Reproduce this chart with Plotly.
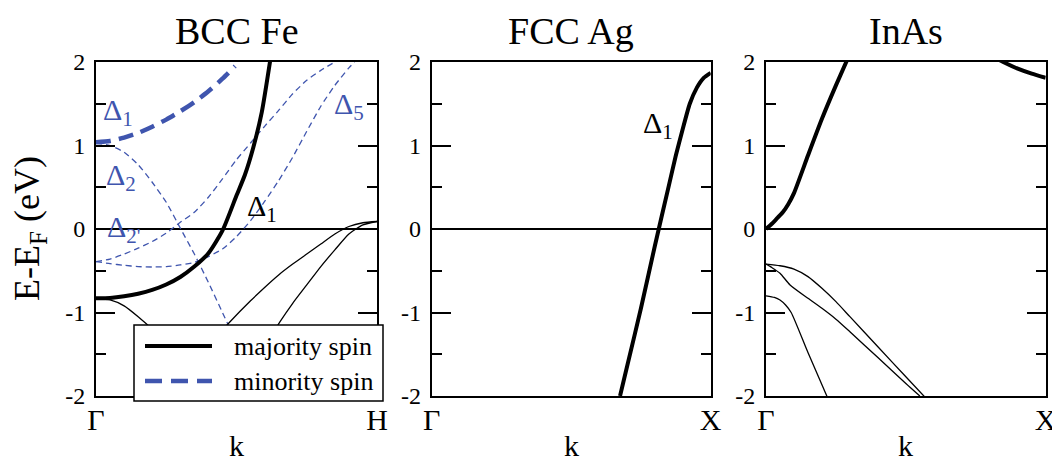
import plotly.graph_objects as go

# ---------------- data ----------------
# BCC Fe, Gamma -> H (k normalised 0..1), energies in eV
fe_maj_d1_k = [0, 0.05, 0.1, 0.15, 0.2, 0.25, 0.3, 0.35, 0.4, 0.45, 0.5, 0.53, 0.56, 0.59, 0.62]
fe_maj_d1_e = [-0.83, -0.825, -0.805, -0.775, -0.73, -0.665, -0.575, -0.45, -0.29, -0.02, 0.4, 0.65, 0.98, 1.4, 2.02]

fe_maj_g_k = [0, 0.05, 0.1, 0.15, 0.2, 0.25]
fe_maj_g_e = [-0.83, -0.85, -0.92, -1.05, -1.2, -1.38]

fe_maj_a_k = [0.42, 0.477, 0.55, 0.6, 0.65, 0.7, 0.75, 0.8, 0.85, 0.9, 0.95, 1.0]
fe_maj_a_e = [-1.32, -1.11, -0.86, -0.70, -0.55, -0.42, -0.30, -0.18, -0.06, 0.03, 0.075, 0.09]

fe_maj_b_k = [0.62, 0.655, 0.7, 0.75, 0.8, 0.85, 0.9, 0.95, 1.0]
fe_maj_b_e = [-1.3, -1.11, -0.89, -0.67, -0.45, -0.25, -0.06, 0.05, 0.09]

fe_min_d1_k = [0, 0.05, 0.1, 0.15, 0.2, 0.25, 0.3, 0.35, 0.4, 0.45, 0.495]
fe_min_d1_e = [1.04, 1.055, 1.095, 1.15, 1.225, 1.31, 1.41, 1.52, 1.65, 1.80, 1.95]

fe_min_d2_k = [0, 0.05, 0.1, 0.15, 0.2, 0.25, 0.3, 0.35, 0.4, 0.45, 0.5]
fe_min_d2_e = [1.03, 1.0, 0.92, 0.77, 0.56, 0.32, 0.01, -0.3, -0.64, -1.0, -1.36]

fe_min_d2p_k = [0, 0.05, 0.1, 0.15, 0.2, 0.25, 0.3, 0.35, 0.4, 0.45, 0.5, 0.55, 0.6, 0.65, 0.7, 0.75, 0.8, 0.85]
fe_min_d2p_e = [-0.39, -0.36, -0.3, -0.23, -0.15, -0.05, 0.08, 0.2, 0.38, 0.6, 0.83, 1.03, 1.23, 1.42, 1.62, 1.78, 1.9, 2.0]

fe_min_d5_k = [0, 0.05, 0.1, 0.15, 0.2, 0.25, 0.3, 0.35, 0.4, 0.45, 0.5, 0.55, 0.6, 0.65, 0.7, 0.75, 0.8, 0.85, 0.9, 0.92]
fe_min_d5_e = [-0.39, -0.415, -0.435, -0.45, -0.455, -0.45, -0.43, -0.4, -0.33, -0.24, -0.09, 0.1, 0.33, 0.58, 0.86, 1.17, 1.47, 1.72, 1.93, 2.0]

# FCC Ag, Gamma -> X
ag_d1_k = [0.675, 0.7, 0.75, 0.8, 0.85, 0.875, 0.9, 0.925, 0.95, 0.975, 1.0]
ag_d1_e = [-2.0, -1.65, -0.95, -0.2, 0.52, 0.88, 1.2, 1.5, 1.69, 1.81, 1.87]

# InAs, Gamma -> X
inas_cb_k = [0, 0.02, 0.04, 0.06, 0.08, 0.1, 0.15, 0.2, 0.25, 0.3]
inas_cb_e = [0, 0.06, 0.13, 0.2, 0.3, 0.43, 0.88, 1.32, 1.72, 2.1]

inas_cbx_k = [0.82, 0.848, 0.9, 0.95, 1.0]
inas_cbx_e = [2.05, 2.0, 1.92, 1.86, 1.81]

inas_hh_k = [0, 0.05, 0.1, 0.15, 0.2, 0.25, 0.3, 0.4, 0.5, 0.57]
inas_hh_e = [-0.42, -0.44, -0.48, -0.57, -0.71, -0.87, -1.05, -1.41, -1.77, -2.02]

inas_lh_k = [0, 0.02, 0.05, 0.086, 0.15, 0.2, 0.25, 0.3, 0.4, 0.5, 0.55]
inas_lh_e = [-0.42, -0.46, -0.53, -0.67, -0.83, -0.95, -1.08, -1.23, -1.54, -1.85, -2.0]

inas_so_k = [0, 0.03, 0.05, 0.07, 0.09, 0.15, 0.22]
inas_so_e = [-0.8, -0.82, -0.85, -0.91, -1.0, -1.48, -2.02]

panel_titles = ["BCC Fe", "FCC Ag", "InAs"]
end_labels = ["H", "X", "X"]
y_ticks = [-2, -1, 0, 1, 2]
y_tick_text = ["-2", "-1", "0", "1", "2"]

# ---------------- styling ----------------
OFF = 8                      # page body margin of the html page
W, H = 1060 - OFF, 463 - OFF
BLUE = "#3f55ae"
SERIF = "Liberation Serif"


def px(x):
    return (x - OFF) / W


def py(y):
    return 1 - (y - OFF) / H


fig = go.Figure()


def add(k, e, ax, color, width, dash="solid"):
    fig.add_trace(go.Scatter(x=k, y=e, mode="lines", xaxis=ax[0], yaxis=ax[1],
                             line=dict(color=color, width=width, dash=dash, shape="spline", smoothing=0.6),
                             showlegend=False, hoverinfo="skip"))


A1, A2, A3 = ("x", "y"), ("x2", "y2"), ("x3", "y3")

# Fe minority (dashed blue)
add(fe_min_d2_k, fe_min_d2_e, A1, BLUE, 1.3, "6px,4px")
add(fe_min_d2p_k, fe_min_d2p_e, A1, BLUE, 1.3, "6px,4px")
add(fe_min_d5_k, fe_min_d5_e, A1, BLUE, 1.3, "6px,4px")
add(fe_min_d1_k, fe_min_d1_e, A1, BLUE, 4.5, "15px,8px")
# Fe majority (solid black)
add(fe_maj_g_k, fe_maj_g_e, A1, "black", 1.3)
add(fe_maj_a_k, fe_maj_a_e, A1, "black", 1.3)
add(fe_maj_b_k, fe_maj_b_e, A1, "black", 1.3)
add(fe_maj_d1_k, fe_maj_d1_e, A1, "black", 4)
# Ag
add(ag_d1_k, ag_d1_e, A2, "black", 4)
# InAs
add(inas_cb_k, inas_cb_e, A3, "black", 4)
add(inas_cbx_k, inas_cbx_e, A3, "black", 4)
add(inas_hh_k, inas_hh_e, A3, "black", 1.3)
add(inas_lh_k, inas_lh_e, A3, "black", 1.3)
add(inas_so_k, inas_so_e, A3, "black", 1.3)

x_domains = [(96, 377), (431.7, 710.7), (766, 1045.7)]
y_dom = [py(396), py(62)]

layout = dict(width=W, height=H, autosize=False, margin=dict(l=0, r=0, t=0, b=0, pad=0),
              paper_bgcolor="white", plot_bgcolor="white", showlegend=False)

for i, (x0, x1) in enumerate(x_domains):
    sfx = "" if i == 0 else str(i + 1)
    layout["xaxis" + sfx] = dict(
        domain=[px(x0), px(x1)], range=[0, 1], anchor="y" + sfx, automargin=False,
        showline=True, mirror=True, linecolor="black", linewidth=2,
        ticks="", tickvals=[0, 1], ticktext=["Γ", end_labels[i]],
        ticklabelstandoff=-4,
        tickfont=dict(family=SERIF, size=30, color="black"),
        showgrid=False, zeroline=False, fixedrange=True)
    layout["yaxis" + sfx] = dict(
        domain=y_dom, range=[-2, 2], anchor="x" + sfx, automargin=False,
        showline=True, mirror="ticks", linecolor="black", linewidth=2,
        ticks="inside", ticklen=19, tickwidth=2, tickcolor="black",
        tickvals=y_ticks, ticktext=y_tick_text, ticklabelstandoff=4,
        minor=dict(ticks="inside", ticklen=10, tickwidth=2, tickcolor="black", dtick=0.5, tick0=0),
        tickfont=dict(family=SERIF, size=24, color="black"),
        showgrid=False, zeroline=True, zerolinecolor="black", zerolinewidth=1.5,
        fixedrange=True)

fig.update_layout(**layout)

annotations = []
for i, (x0, x1) in enumerate(x_domains):
    cx = px((x0 + x1) / 2)
    annotations.append(dict(text=panel_titles[i], x=cx, y=py(31), xref="paper", yref="paper",
                            xanchor="center", yanchor="middle", showarrow=False,
                            font=dict(family=SERIF, size=38, color="black")))
    annotations.append(dict(text="k", x=cx, y=py(445), xref="paper", yref="paper",
                            xanchor="center", yanchor="middle", showarrow=False,
                            font=dict(family=SERIF, size=30, color="black")))

annotations.append(dict(text="E-E<sub>F</sub> (eV)", x=px(29), y=py(229), xref="paper", yref="paper",
                        xanchor="center", yanchor="middle", textangle=-90, showarrow=False,
                        font=dict(family=SERIF, size=36, color="black")))

# band labels (data coordinates)
band_labels = [
    ("Δ<sub>1</sub>", 0.08, 1.40, "x", "y", BLUE),
    ("Δ<sub>2</sub>", 0.088, 0.62, "x", "y", BLUE),
    ("Δ<sub>2'</sub>", 0.1, 0.0, "x", "y", BLUE),
    ("Δ<sub>5</sub>", 0.9, 1.47, "x", "y", BLUE),
    ("Δ<sub>1</sub>", 0.59, 0.25, "x", "y", "black"),
    ("Δ<sub>1</sub>", 0.811, 1.25, "x2", "y2", "black"),
]
for t, xx, yy, xr, yr, c in band_labels:
    annotations.append(dict(text=t, x=xx, y=yy, xref=xr, yref=yr, xanchor="center", yanchor="middle",
                            showarrow=False, font=dict(family=SERIF, size=30, color=c)))

# legend (drawn manually)
annotations.append(dict(text="majority spin", x=px(232), y=py(346), xref="paper", yref="paper",
                        xanchor="left", yanchor="middle", showarrow=False,
                        font=dict(family=SERIF, size=26, color="black")))
annotations.append(dict(text="minority spin", x=px(232), y=py(381), xref="paper", yref="paper",
                        xanchor="left", yanchor="middle", showarrow=False,
                        font=dict(family=SERIF, size=26, color="black")))

shapes = [
    dict(type="rect", xref="paper", yref="paper", x0=px(134), x1=px(383), y0=py(401), y1=py(325),
         fillcolor="white", line=dict(color="black", width=1.5), layer="above"),
    dict(type="line", xref="paper", yref="paper", x0=px(145), x1=px(212), y0=py(346), y1=py(346),
         line=dict(color="black", width=4), layer="above"),
    dict(type="line", xref="paper", yref="paper", x0=px(145), x1=px(212), y0=py(381), y1=py(381),
         line=dict(color=BLUE, width=4.5, dash="17px,9px"), layer="above"),
]

fig.update_layout(annotations=annotations, shapes=shapes)
fig.write_html("out.html")
